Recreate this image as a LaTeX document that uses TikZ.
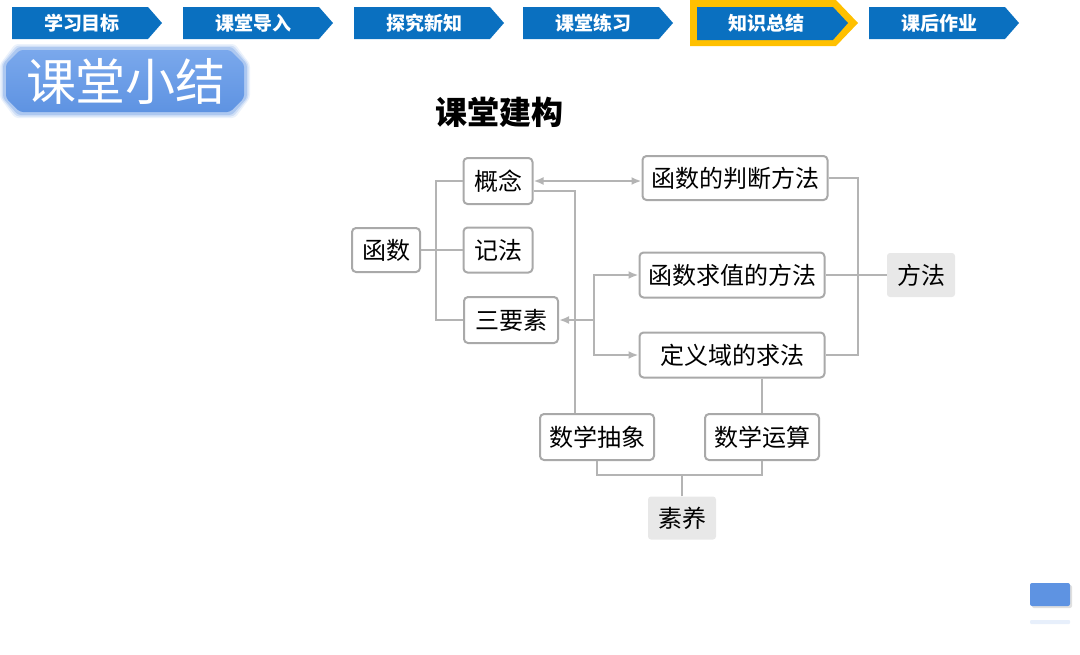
\documentclass[tikz,border=0pt]{standalone}
\usepackage{fontspec}
\setmainfont{Noto Sans CJK SC}
\usetikzlibrary{arrows.meta,calc}
\definecolor{navblue}{HTML}{0A70C0}
\definecolor{navyellow}{HTML}{FFC000}
\definecolor{boxgray}{HTML}{A9A9A9}
\definecolor{linegray}{HTML}{B4B4B4}
\definecolor{fillgray}{HTML}{E8E8E8}
\definecolor{badgeblue}{HTML}{5E93E2}
\definecolor{badgelight}{HTML}{7AA8EC}
\tikzset{
  navtext/.style={text=white,font=\fontsize{19}{19}\selectfont\bfseries},
  box/.style={draw=boxgray,line width=2pt,rounded corners=4pt,fill=white,inner sep=0pt,
    font=\fontsize{24}{24}\selectfont},
  gbox/.style={fill=fillgray,rounded corners=3pt,inner sep=0pt,font=\fontsize{24}{24}\selectfont},
  conn/.style={draw=linegray,line width=2pt},
  tip/.style={-{Latex[length=10pt,width=8pt]}},
}
\begin{document}
\begin{tikzpicture}[x=1pt,y=-1pt]
\useasboundingbox (0,0) rectangle (1080,654);
% navigation
\foreach \xx/\tt in {12/学习目标,183/课堂导入,354/探究新知,523/课堂练习,869/课后作业}{
  \fill[navblue] (\xx,7) -- (\xx+136,7) -- (\xx+150,23) -- (\xx+136,39) -- (\xx,39) -- cycle;
  \node[navtext] at (\xx+70,23) {\tt};
}
\fill[navyellow] (690,0) -- (836,0) -- (858,23) -- (836,46) -- (690,46) -- cycle;
\fill[navblue] (697,7) -- (833,7) -- (848,23) -- (833,40) -- (697,40) -- cycle;
\node[navtext] at (766,23) {知识总结};
% badge
\foreach \o/\op in {5/0.12,3.5/0.2,2/0.3}{
  \fill[badgeblue,opacity=\op,rounded corners=3pt] (5+15-\o,49-\o) -- (245-15+\o,49-\o) -- (245+\o,64) -- (245+\o,98) -- (245-15+\o,113+\o) -- (5+15-\o,113+\o) -- (5-\o,98) -- (5-\o,64) -- cycle;
}
\shade[top color=badgelight,bottom color=badgeblue,rounded corners=3pt] (20,50) -- (230,50) -- (244,64) -- (244,98) -- (230,112) -- (20,112) -- (6,98) -- (6,64) -- cycle;
\node[text=white,font=\fontsize{50}{50}\selectfont] (badge) at (126,81) {课堂小结};
% title
\node[font=\fontsize{32}{32}\selectfont\bfseries] (title) at (499,112) {课堂建构};
% nodes
\node[box,minimum width=68pt,minimum height=44pt] (hanshu) at (386,250) {函数};
\node[box,minimum width=69pt,minimum height=46pt] (gainian) at (498,181) {概念};
\node[box,minimum width=69pt,minimum height=45pt] (jifa) at (498,250) {记法};
\node[box,minimum width=94pt,minimum height=46pt] (sanyao) at (511,320) {三要素};
\node[box,minimum width=185pt,minimum height=44pt] (panduan) at (735,178) {函数的判断方法};
\node[box,minimum width=185pt,minimum height=45pt] (qiuzhi) at (732,275) {函数求值的方法};
\node[box,minimum width=185pt,minimum height=45pt] (dingyi) at (732,355) {定义域的求法};
\node[gbox,minimum width=68pt,minimum height=44pt] (fangfa) at (921,275) {方法};
\node[box,minimum width=114pt,minimum height=46pt] (chouxiang) at (597,437) {数学抽象};
\node[box,minimum width=114pt,minimum height=46pt] (yunsuan) at (762,437) {数学运算};
\node[gbox,minimum width=68pt,minimum height=43pt] (suyang) at (682,518) {素养};
% connectors
\coordinate (jA) at (436,250);
\draw[conn] (gainian.west) -| (jA) |- (sanyao.west);
\draw[conn] (hanshu.east) -- (jifa.west);
\draw[conn,{Latex[length=10pt,width=8pt]}-{Latex[length=10pt,width=8pt]}] (gainian.east) -- (panduan.west |- gainian.east);
\coordinate (cA) at (575,191);
\draw[conn] (gainian.east |- cA) -- (cA) -- (cA |- chouxiang.north);
\coordinate (jB) at (594,320);
\draw[conn,tip] (jB) -- (sanyao.east);
\draw[conn,tip] (jB) |- (qiuzhi.west);
\draw[conn,tip] (jB) |- (dingyi.west);
\coordinate (jC) at (858,275);
\draw[conn] (panduan.east) -| (jC) |- (dingyi.east);
\draw[conn] (qiuzhi.east) -- (fangfa.west);
\draw[conn] (dingyi.south -| yunsuan.north) -- (yunsuan.north);
\coordinate (jD) at (682,475);
\draw[conn] (chouxiang.south) |- (jD) -| (yunsuan.south);
\draw[conn] (suyang.north) -- (jD);
% corner button
\fill[gray,opacity=0.25,rounded corners=2pt] (1032,585) rectangle (1072,608);
\fill[badgeblue,rounded corners=2pt] (1030,583) rectangle (1070,606);
\fill[badgeblue!15,rounded corners=1pt] (1030,620) rectangle (1070,624);
\end{tikzpicture}
\end{document}
